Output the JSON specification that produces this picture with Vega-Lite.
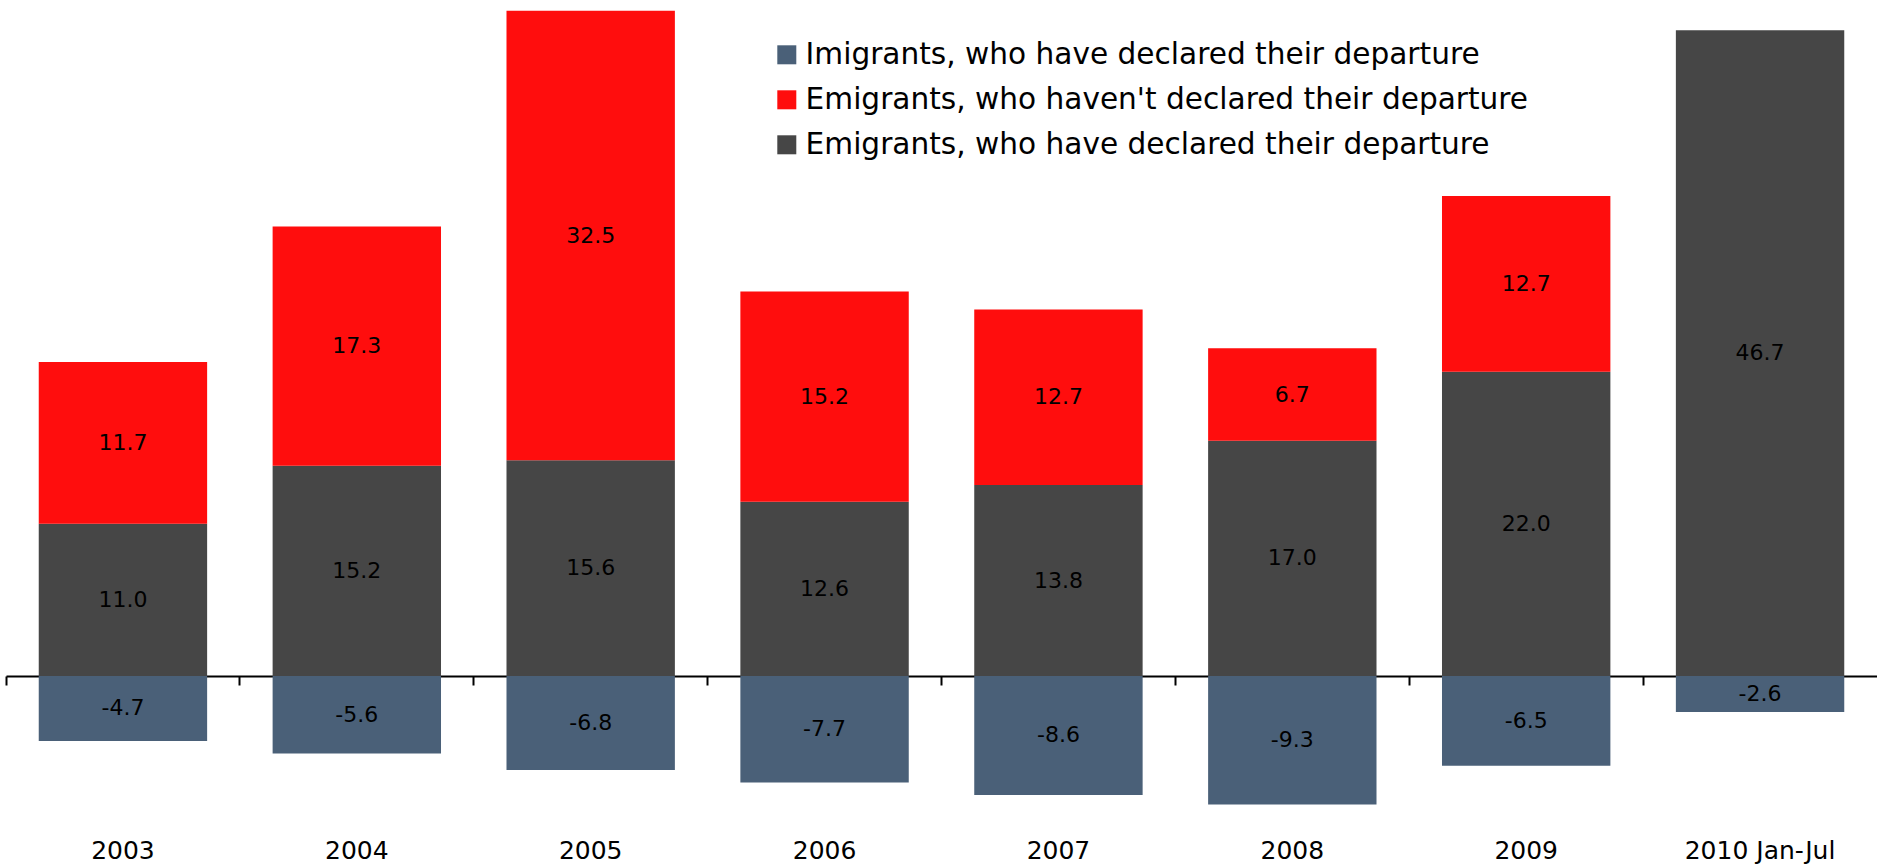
{
  "$schema": "https://vega.github.io/schema/vega-lite/v6.json",
  "width": 1871,
  "height": 835,
  "autosize": {"type": "none"},
  "padding": {"left": 6, "top": 0, "right": 0, "bottom": 32},
  "background": "white",
  "config": {
    "view": {"stroke": null},
    "font": "DejaVu Sans",
    "locale": {"number": {"decimal": ".", "thousands": ",", "grouping": [3], "currency": ["$", ""], "minus": "-"}}
  },
  "data": {
    "values": [
      {"year": "2003", "series": "Emigrants, who have declared their departure", "value": 11.0, "order": 1},
      {"year": "2003", "series": "Emigrants, who haven't declared their departure", "value": 11.7, "order": 2},
      {"year": "2003", "series": "Imigrants, who have declared their departure", "value": -4.7, "order": 0},
      {"year": "2004", "series": "Emigrants, who have declared their departure", "value": 15.2, "order": 1},
      {"year": "2004", "series": "Emigrants, who haven't declared their departure", "value": 17.3, "order": 2},
      {"year": "2004", "series": "Imigrants, who have declared their departure", "value": -5.6, "order": 0},
      {"year": "2005", "series": "Emigrants, who have declared their departure", "value": 15.6, "order": 1},
      {"year": "2005", "series": "Emigrants, who haven't declared their departure", "value": 32.5, "order": 2},
      {"year": "2005", "series": "Imigrants, who have declared their departure", "value": -6.8, "order": 0},
      {"year": "2006", "series": "Emigrants, who have declared their departure", "value": 12.6, "order": 1},
      {"year": "2006", "series": "Emigrants, who haven't declared their departure", "value": 15.2, "order": 2},
      {"year": "2006", "series": "Imigrants, who have declared their departure", "value": -7.7, "order": 0},
      {"year": "2007", "series": "Emigrants, who have declared their departure", "value": 13.8, "order": 1},
      {"year": "2007", "series": "Emigrants, who haven't declared their departure", "value": 12.7, "order": 2},
      {"year": "2007", "series": "Imigrants, who have declared their departure", "value": -8.6, "order": 0},
      {"year": "2008", "series": "Emigrants, who have declared their departure", "value": 17.0, "order": 1},
      {"year": "2008", "series": "Emigrants, who haven't declared their departure", "value": 6.7, "order": 2},
      {"year": "2008", "series": "Imigrants, who have declared their departure", "value": -9.3, "order": 0},
      {"year": "2009", "series": "Emigrants, who have declared their departure", "value": 22.0, "order": 1},
      {"year": "2009", "series": "Emigrants, who haven't declared their departure", "value": 12.7, "order": 2},
      {"year": "2009", "series": "Imigrants, who have declared their departure", "value": -6.5, "order": 0},
      {"year": "2010 Jan-Jul", "series": "Emigrants, who have declared their departure", "value": 46.7, "order": 1},
      {"year": "2010 Jan-Jul", "series": "Imigrants, who have declared their departure", "value": -2.6, "order": 0}
    ]
  },
  "layer": [
    {
      "mark": {"type": "bar", "width": {"band": 0.72}},
      "encoding": {
        "x": {
          "field": "year", "type": "nominal", "sort": null,
          "scale": {"paddingInner": 0, "paddingOuter": 0},
          "axis": {
            "orient": "bottom", "offset": -159, "labels": false, "title": null, "grid": false,
            "domain": true, "domainColor": "black", "domainWidth": 2,
            "ticks": true, "tickColor": "black", "tickWidth": 2, "tickSize": 9, "bandPosition": 0
          }
        },
        "y": {
          "field": "value", "type": "quantitative", "stack": "zero",
          "scale": {"domain": [-11.5, 48.88], "nice": false, "zero": false},
          "axis": null
        },
        "color": {
          "field": "series", "type": "nominal",
          "scale": {
            "domain": ["Imigrants, who have declared their departure", "Emigrants, who haven't declared their departure", "Emigrants, who have declared their departure"],
            "range": ["#4A6078", "#FF0D0D", "#464646"]
          },
          "legend": {
            "orient": "none", "legendX": 766, "legendY": 40, "title": null, "padding": 0,
            "labelFontSize": 29.6, "labelColor": "black", "labelFont": "DejaVu Sans", "labelLimit": 0,
            "symbolType": "square", "symbolSize": 361, "symbolStrokeWidth": 0, "symbolOpacity": 1,
            "rowPadding": 14, "labelOffset": 4
          }
        },
        "order": {"field": "order", "type": "quantitative"}
      }
    },
    {
      "transform": [
        {"stack": "value", "groupby": ["year"], "sort": [{"field": "order", "order": "ascending"}], "as": ["v0", "v1"]},
        {"fold": ["v0", "v1"], "as": ["edge", "pos"]}
      ],
      "mark": {"type": "text", "fontSize": 22, "color": "black", "baseline": "middle", "align": "center"},
      "encoding": {
        "x": {
          "field": "year", "type": "nominal", "sort": null,
          "axis": {
            "orient": "bottom", "title": null, "domain": false, "ticks": false, "grid": false,
            "labelFontSize": 25, "labelColor": "black", "labelPadding": 3, "labelAngle": 0
          }
        },
        "y": {"field": "pos", "type": "quantitative", "aggregate": "mean"},
        "detail": {"field": "series"},
        "text": {"field": "value", "type": "quantitative", "format": ".1f"}
      }
    }
  ],
  "resolve": {"axis": {"x": "independent"}}
}
